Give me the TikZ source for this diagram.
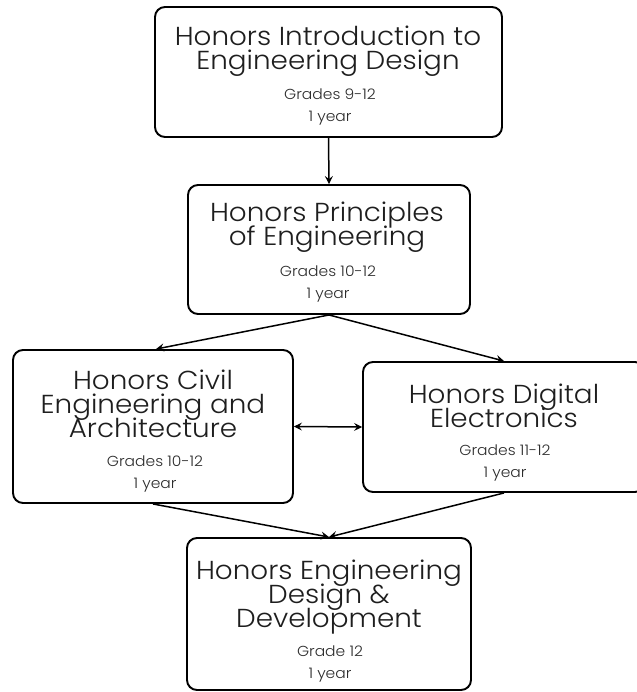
\documentclass[tikz,border=0pt]{standalone}
\usepackage{fontspec}
\setmainfont{Poppins}
\IfFontExistsTF{Poppins Light}
  {\newfontfamily\myfam{Poppins Light}[FakeStretch=1.07]}
  {\newfontfamily\myfam{Poppins}[FakeStretch=1.07]}
\usetikzlibrary{arrows.meta,calc}
\definecolor{ink}{HTML}{1E1E1E}
\definecolor{inksm}{HTML}{2C2C2C}
\newcommand{\mytitlefont}{\myfam\fontsize{26}{24}\selectfont\lineskiplimit=-40pt\lineskip=0pt}
\newcommand{\mysmallfont}{\myfam\fontsize{14.5}{22}\selectfont\lineskiplimit=-40pt\lineskip=0pt}
\tikzset{
  box/.style={draw=black, line width=1.9pt, rounded corners=10pt, inner sep=0pt, fill=white},
  ttl/.style={anchor=base, inner sep=0pt, align=center, text=ink, font=\mytitlefont},
  sml/.style={anchor=base, inner sep=0pt, align=center, text=inksm, font=\mysmallfont},
  conn/.style={line width=1.5pt, -{Stealth[length=8pt,width=8pt,inset=3pt]}},
  conn2/.style={line width=1.5pt, {Stealth[length=8pt,width=8pt,inset=3pt]}-{Stealth[length=8pt,width=8pt,inset=3pt]}}
}
\begin{document}
\begin{tikzpicture}[x=1pt,y=-1pt]
\useasboundingbox (0,0) rectangle (636,692);
\node[box, minimum width=347pt, minimum height=130pt] (b1) at (328.5,72) {};
\node[box, minimum width=282pt, minimum height=129pt] (b2) at (329,249.5) {};
\node[box, minimum width=280pt, minimum height=153pt] (b3) at (153,426.5) {};
\node[box, minimum width=282pt, minimum height=130pt] (b4) at (504,427) {};
\node[box, minimum width=284pt, minimum height=152pt] (b5) at (329,614) {};
% box 1 (base = baseline of last line)
\node[ttl] (t1) at (328,70) {Honors Introduction to\\Engineering Design};
\node[sml] (s1) at (330,122) {Grades 9-12\\1 year};
% box 2
\node[ttl] (t2) at (327,246) {Honors Principles\\of Engineering};
\node[sml] (s2) at (328,298) {Grades 10-12\\1 year};
% box 3
\node[ttl] (t3) at (153,437) {Honors Civil\\Engineering and\\Architecture};
\node[sml] (s3) at (155,488) {Grades 10-12\\1 year};
% box 4
\node[ttl] (t4) at (504,427) {Honors Digital\\Electronics};
\node[sml] (s4) at (505,477) {Grades 11-12\\1 year};
% box 5
\node[ttl] (t5) at (329,627) {Honors Engineering\\Design \&\\Development};
\node[sml] (s5) at (330,678) {Grade 12\\1 year};
% connectors
\draw[conn] (b1.south) -- (b2.north);
\draw[conn] (b2.south) -- ($(b3.north)+(3,0)$);
\draw[conn] (b2.south) -- (b4.north);
\draw[conn2] (b3.east) -- (b4.west);
\draw[conn] (b3.south) -- (b5.north);
\draw[conn] (b4.south) -- (b5.north);
\end{tikzpicture}
\end{document}
